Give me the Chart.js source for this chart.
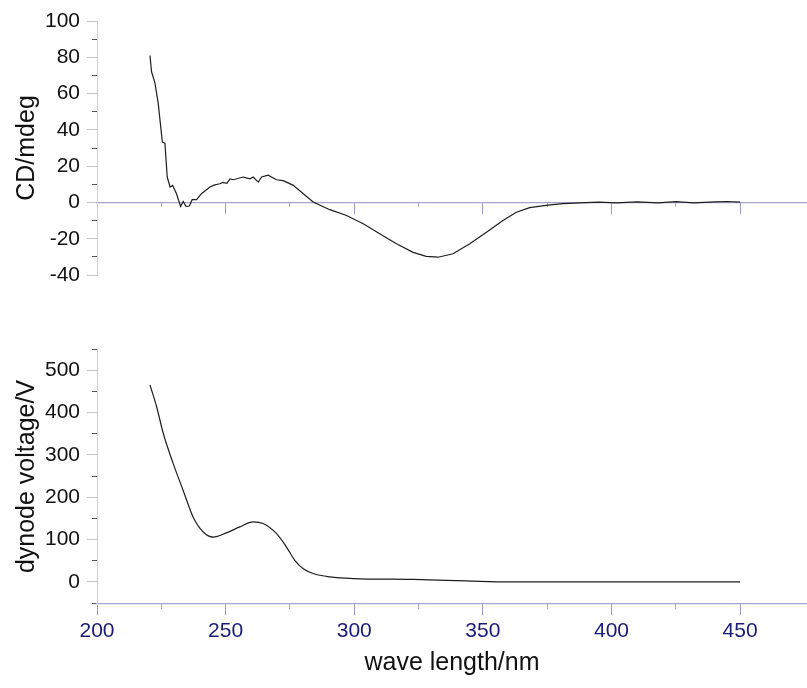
<!DOCTYPE html>
<html>
<head>
<meta charset="utf-8">
<script src="https://cdn.jsdelivr.net/npm/chart.js@4.4.1/dist/chart.umd.min.js"></script>
<style>
  html, body { margin: 0; padding: 0; background: #fff; }
  #wrap { position: relative; width: 807px; height: 688px; }
  #wrap canvas { position: absolute; left: 0; top: 0; }
</style>
</head>
<body>
<div id="wrap">
  <canvas id="cdChart" width="807" height="688"></canvas>
  <canvas id="dyChart" width="807" height="688"></canvas>
</div>
<script>
// Data

const cdWave = [220.6, 221.2, 222.5, 223.8, 225.4, 226.4, 227.3, 228.4, 229.4, 230.9, 232.5, 233.5, 234.6, 235.9, 237, 238.7, 240.6, 243.9, 245.5, 247.7, 249, 250.5, 251.7, 253, 256.8, 258, 259.5, 260.7, 262.7, 264, 266.5, 269.8, 272.4, 276.3, 280.2, 284, 290.5, 297, 303.5, 309.9, 316.4, 322.9, 328, 332.6, 338.4, 344.9, 351.4, 357.8, 363, 368.2, 375.3, 381.1, 387.6, 395, 402, 410, 418, 425, 432, 440, 445, 450];
const cdValue = [81, 72, 66, 54.6, 33.3, 32.7, 14, 8.5, 9.4, 4.8, -2.2, 0.5, -2.2, -2, 1.5, 1.5, 4.8, 8.5, 9.5, 10.3, 11, 10.5, 13, 12.5, 14, 13.5, 13, 14, 11.2, 14, 15, 12.5, 12, 9.4, 4.8, 0.2, -4, -7.2, -11.8, -17.3, -22.8, -27.5, -29.7, -30.2, -28.3, -22.8, -16.4, -9.9, -5.4, -2.9, -1.5, -0.7, -0.3, 0.2, -0.3, 0.3, -0.2, 0.4, -0.3, 0.3, 0.5, 0.2];

const dyWave = [220.6, 223.2, 225.8, 229.6, 233.5, 237.4, 241.3, 245.2, 250.3, 255.5, 260.7, 264.6, 269.8, 273.6, 276.9, 280.2, 284, 290.5, 299.6, 322.9, 343.6, 360, 400, 450];
const dyValue = [465, 413, 350, 280, 216, 153, 118, 106, 116, 130, 142, 138, 114, 83, 51, 31, 20, 12, 8, 6, 2.5, 0, 0, 0];

const xMajorTicks = [200, 250, 300, 350, 400, 450];
const xMinorTicks = [225, 275, 325, 375, 425];
const cdMajorTicks = [-40, -20, 0, 20, 40, 60, 80, 100];
const cdMinorTicks = [-30, -10, 10, 30, 50, 70, 90];
const dyMajorTicks = [0, 100, 200, 300, 400, 500];
const dyMinorTicks = [-50, 50, 150, 250, 350, 450, 550];

// Shared look

const FONT = "'Liberation Sans', Arial, sans-serif";
const xRange = { min: 200, max: 476 };

const toPoints = (xs, ys) => xs.map((x, i) => ({ x: x, y: ys[i] }));
const setTicks = values => scale => {
  scale.ticks = values.map(v => ({ value: v }));
};

const yMain = (range, ticks, title) => ({
  type: "linear",
  position: "left",
  min: range.min,
  max: range.max,
  afterBuildTicks: setTicks(ticks),
  afterFit: scale => { scale.width = 97; },
  border: { color: "#cfcfcf", width: 1 },
  grid: { drawOnChartArea: false, tickLength: 10, color: "#c4c4c4" },
  ticks: { color: "#111", padding: 7, font: { family: FONT, size: 21 } },
  title: {
    display: true,
    text: title,
    color: "#111",
    padding: { top: 12, bottom: 0 },
    font: { family: FONT, size: 25 },
  },
});

const yMinor = (range, ticks) => ({
  type: "linear",
  position: { x: 200 },
  min: range.min,
  max: range.max,
  afterBuildTicks: setTicks(ticks),
  border: { display: false },
  grid: { drawOnChartArea: false, tickLength: 5, color: "#555" },
  ticks: { display: false },
});

const xMinor = yPos => ({
  type: "linear",
  position: { y: yPos },
  min: xRange.min,
  max: xRange.max,
  afterBuildTicks: setTicks(xMinorTicks),
  border: { display: false },
  grid: { drawOnChartArea: false, tickLength: 5, color: "#a8a8cc" },
  ticks: { display: false },
});

const lineSet = (pts, tension) => ({
  data: pts,
  borderColor: "#1e1e1e",
  borderWidth: 1.2,
  pointRadius: 0,
  tension: tension,
  cubicInterpolationMode: tension ? "monotone" : "default",
  fill: false,
});

const baseOptions = {
  responsive: false,
  animation: false,
  plugins: { legend: { display: false }, tooltip: { enabled: false } },
};

// Top chart: CD

const cdRange = { min: -40, max: 100 };
new Chart(document.getElementById("cdChart"), {
  type: "line",
  data: { datasets: [lineSet(toPoints(cdWave, cdValue), 0)] },
  options: {
    ...baseOptions,
    layout: { padding: { top: 21, bottom: 413, left: 0, right: 0 } },
    scales: {
      x: {
        type: "linear",
        position: { y: 0 },
        min: xRange.min,
        max: xRange.max,
        afterBuildTicks: setTicks(xMajorTicks),
        border: { color: "#a4a4cc", width: 1.2 },
        grid: { drawOnChartArea: false, tickLength: 11, color: "#9a9ac4" },
        ticks: { display: false },
      },
      xm: xMinor(0),
      y: yMain(cdRange, cdMajorTicks, "CD/mdeg"),
      ym: yMinor(cdRange, cdMinorTicks),
    },
  },
});

// Bottom chart: dynode voltage

const dyRange = { min: -52, max: 550 };
new Chart(document.getElementById("dyChart"), {
  type: "line",
  data: { datasets: [lineSet(toPoints(dyWave, dyValue), 0.4)] },
  options: {
    ...baseOptions,
    layout: { padding: { top: 349, bottom: 0, left: 0, right: 0 } },
    scales: {
      x: {
        type: "linear",
        position: "bottom",
        min: xRange.min,
        max: xRange.max,
        afterBuildTicks: setTicks(xMajorTicks),
        afterFit: scale => { scale.height = 84; },
        border: { color: "#a4a4cc", width: 1.2 },
        grid: { drawOnChartArea: false, tickLength: 11, color: "#9a9ac4" },
        ticks: { color: "#1a1a78", padding: 4, maxRotation: 0, font: { family: FONT, size: 21 } },
        title: {
          display: true,
          text: "wave length/nm",
          color: "#111",
          padding: { top: 0, bottom: 10 },
          font: { family: FONT, size: 25 },
        },
      },
      xm: xMinor(dyRange.min),
      y: yMain(dyRange, dyMajorTicks, "dynode voltage/V"),
      ym: yMinor(dyRange, dyMinorTicks),
    },
  },
});
</script>
</body>
</html>
